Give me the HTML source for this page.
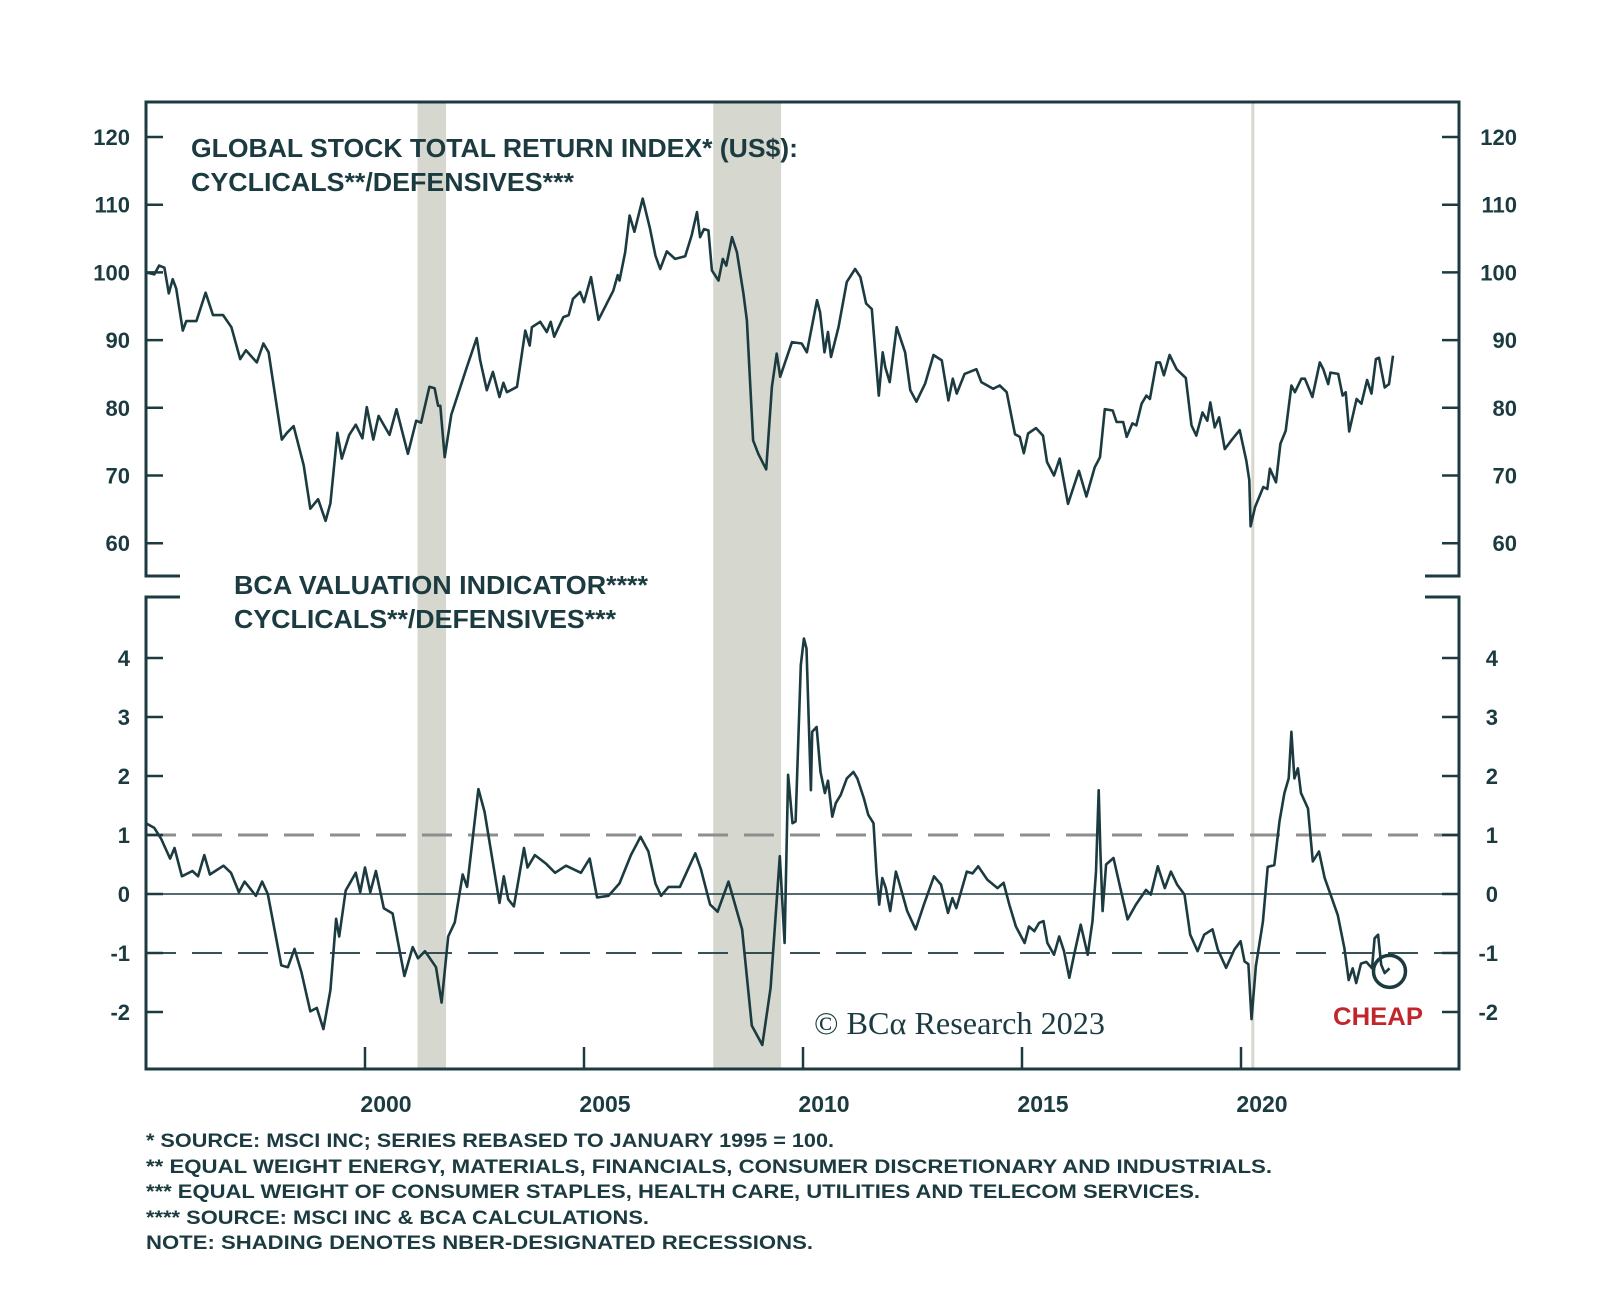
<!DOCTYPE html>
<html><head><meta charset="utf-8"><style>
html,body{margin:0;padding:0;background:#fff;}
svg{display:block;font-family:"Liberation Sans",sans-serif;}
</style></head><body>
<svg id="chart" width="1600" height="1295" viewBox="0 0 1600 1295" xmlns="http://www.w3.org/2000/svg"></svg>
<script>
const recessionStarts=[2001.2,2007.95];
const recessionEnds=[2001.85,2009.5];
const covidLine=[2020.27];
const topTicks=[60,70,80,90,100,110,120];
const botTicks=[-2,-1,0,1,2,3,4];
const xTickYears=[2000,2005,2010,2015,2020];
const xTickLabels=["2000","2005","2010","2015","2020"];
const topYears=[1995.0,1995.19,1995.3,1995.42,1995.52,1995.61,1995.69,1995.84,1995.92,1996.15,1996.36,1996.53,1996.76,1996.95,1997.15,1997.28,1997.53,1997.68,1997.8,1998.1,1998.22,1998.37,1998.6,1998.75,1998.93,1999.1,1999.21,1999.37,1999.47,1999.64,1999.79,1999.94,2000.04,2000.19,2000.31,2000.56,2000.72,2000.98,2001.17,2001.28,2001.47,2001.59,2001.67,2001.72,2001.82,2001.97,2002.32,2002.55,2002.63,2002.78,2002.92,2003.07,2003.16,2003.24,2003.47,2003.66,2003.76,2003.81,2004.0,2004.15,2004.24,2004.32,2004.53,2004.65,2004.75,2004.91,2005.0,2005.16,2005.33,2005.67,2005.77,2005.81,2005.94,2006.04,2006.15,2006.34,2006.51,2006.63,2006.74,2006.89,2007.08,2007.31,2007.46,2007.58,2007.65,2007.74,2007.84,2007.92,2008.07,2008.17,2008.25,2008.38,2008.49,2008.64,2008.72,2008.86,2008.98,2009.16,2009.29,2009.4,2009.48,2009.75,2009.97,2010.09,2010.32,2010.39,2010.49,2010.57,2010.64,2010.81,2011.0,2011.19,2011.31,2011.44,2011.57,2011.73,2011.82,2011.88,2011.98,2012.14,2012.33,2012.45,2012.59,2012.79,2012.98,2013.17,2013.32,2013.42,2013.51,2013.69,2013.96,2014.07,2014.34,2014.49,2014.65,2014.84,2014.95,2015.04,2015.14,2015.32,2015.48,2015.57,2015.73,2015.86,2016.05,2016.3,2016.47,2016.66,2016.78,2016.89,2017.07,2017.16,2017.31,2017.39,2017.52,2017.61,2017.73,2017.84,2017.92,2018.07,2018.15,2018.24,2018.37,2018.53,2018.74,2018.87,2018.98,2019.12,2019.23,2019.3,2019.4,2019.5,2019.63,2019.78,2019.97,2020.12,2020.19,2020.22,2020.32,2020.51,2020.6,2020.66,2020.8,2020.9,2021.02,2021.15,2021.23,2021.38,2021.46,2021.63,2021.8,2021.88,2021.99,2022.04,2022.22,2022.32,2022.39,2022.47,2022.64,2022.75,2022.88,2022.98,2023.08,2023.15,2023.28,2023.38,2023.47];
const topValues=[100,99.7,101,100.7,96.9,99,97.6,91.4,92.8,92.8,97,93.7,93.7,91.9,87.2,88.5,86.7,89.5,88.2,75.3,76.3,77.3,71.5,65.1,66.5,63.3,65.9,76.3,72.5,76,77.5,75.5,80.1,75.3,78.8,76,79.8,73.2,78.1,77.8,83.1,82.9,80.3,80.3,72.7,79,85.9,90.3,87,82.6,85.3,81.6,83.7,82.3,83.1,91.4,89.2,91.9,92.7,91.2,92.7,90.5,93.4,93.7,96.1,97.1,95.6,99.3,93,97.3,99.6,98.8,103,108.4,106,110.9,106.4,102.5,100.5,103.1,102,102.4,105.5,108.9,105.2,106.4,106.2,100.3,98.8,102,101,105.2,103,96.9,92.9,75.2,73.2,70.9,83.1,88,84.6,89.7,89.5,88.2,95.9,94.1,88.2,91.2,87.5,91.9,98.6,100.5,99.3,95.4,94.6,81.8,88.2,86,83.8,91.9,88.2,82.6,80.9,83.6,87.8,87,81.1,84.3,82.1,85,85.7,83.8,82.8,83.3,82.3,76.1,75.7,73.3,76.2,77,75.9,72,70,72.5,65.8,70.7,66.9,71.2,72.7,79.8,79.6,77.9,77.9,75.7,77.7,77.4,80.6,81.8,81.3,86.7,86.7,84.8,87.8,85.7,84.4,77.4,75.9,79.3,78.1,80.8,77.1,78.6,73.9,75.2,76.7,72.2,69.3,62.5,65.3,68.3,68,71,69,74.7,76.6,83.3,82.3,84.3,84.3,81.6,86.7,85.7,83.5,85.2,85,81.8,82.3,76.5,81.3,80.6,84.1,82.1,87.2,87.4,83,83.5,87.7];
const valYears=[1995.0,1995.19,1995.35,1995.55,1995.65,1995.82,1996.06,1996.19,1996.33,1996.46,1996.77,1996.94,1997.12,1997.25,1997.51,1997.65,1997.78,1998.09,1998.24,1998.39,1998.55,1998.75,1998.9,1999.05,1999.21,1999.34,1999.41,1999.56,1999.79,1999.89,2000.0,2000.12,2000.25,2000.43,2000.63,2000.9,2001.09,2001.21,2001.37,2001.62,2001.75,2001.9,2002.05,2002.23,2002.33,2002.59,2002.73,2003.07,2003.17,2003.27,2003.4,2003.63,2003.71,2003.88,2004.14,2004.34,2004.59,2004.93,2005.13,2005.3,2005.56,2005.81,2006.07,2006.29,2006.47,2006.63,2006.76,2006.93,2007.19,2007.54,2007.67,2007.88,2008.05,2008.3,2008.61,2008.83,2009.07,2009.26,2009.47,2009.58,2009.66,2009.76,2009.83,2009.95,2010.02,2010.08,2010.18,2010.21,2010.31,2010.4,2010.5,2010.57,2010.67,2010.75,2010.86,2011.0,2011.15,2011.24,2011.39,2011.49,2011.61,2011.68,2011.74,2011.81,2011.89,2011.99,2012.12,2012.19,2012.38,2012.57,2012.76,2012.99,2013.15,2013.31,2013.41,2013.5,2013.74,2013.87,2014.0,2014.21,2014.44,2014.58,2014.71,2014.86,2015.06,2015.16,2015.28,2015.39,2015.49,2015.58,2015.73,2015.85,2015.96,2016.08,2016.19,2016.34,2016.5,2016.61,2016.69,2016.75,2016.79,2016.84,2016.92,2017.09,2017.26,2017.41,2017.6,2017.83,2017.94,2018.1,2018.26,2018.4,2018.54,2018.71,2018.84,2019.01,2019.16,2019.35,2019.47,2019.66,2019.85,2019.99,2020.08,2020.17,2020.24,2020.34,2020.5,2020.61,2020.76,2020.88,2020.99,2021.09,2021.15,2021.22,2021.3,2021.37,2021.53,2021.64,2021.78,2021.91,2022.02,2022.21,2022.36,2022.46,2022.55,2022.63,2022.74,2022.86,2022.99,2023.05,2023.13,2023.2,2023.28,2023.39];
const valValues=[1.2,1.12,0.93,0.6,0.78,0.3,0.39,0.3,0.66,0.33,0.48,0.36,0.03,0.21,-0.03,0.21,0,-1.21,-1.24,-0.93,-1.33,-1.99,-1.93,-2.29,-1.63,-0.42,-0.72,0.06,0.36,0.03,0.45,0.03,0.39,-0.24,-0.33,-1.39,-0.9,-1.09,-0.97,-1.24,-1.84,-0.72,-0.48,0.33,0.12,1.78,1.39,-0.15,0.3,-0.09,-0.21,0.78,0.45,0.66,0.51,0.36,0.48,0.36,0.6,-0.06,-0.03,0.18,0.66,0.97,0.72,0.18,-0.03,0.12,0.12,0.69,0.42,-0.18,-0.3,0.21,-0.6,-2.23,-2.56,-1.59,0.64,-0.83,2.02,1.2,1.23,3.88,4.33,4.16,1.76,2.75,2.83,2.07,1.71,1.92,1.31,1.54,1.68,1.96,2.07,1.96,1.62,1.34,1.2,0.33,-0.18,0.27,0.1,-0.29,0.38,0.21,-0.29,-0.6,-0.18,0.3,0.16,-0.32,-0.07,-0.24,0.38,0.35,0.47,0.24,0.1,0.19,-0.18,-0.55,-0.83,-0.55,-0.63,-0.49,-0.46,-0.83,-1.03,-0.72,-0.97,-1.42,-1.03,-0.52,-1.03,-0.46,0.38,1.76,0.72,-0.29,0.5,0.61,0.05,-0.43,-0.18,0.07,-0.01,0.47,0.1,0.38,0.16,-0.01,-0.69,-0.97,-0.69,-0.6,-0.94,-1.25,-0.94,-0.8,-1.14,-1.19,-2.12,-1.22,-0.47,0.46,0.49,1.23,1.71,1.96,2.75,1.96,2.13,1.71,1.45,0.55,0.72,0.27,0.04,-0.36,-0.92,-1.46,-1.26,-1.51,-1.18,-1.15,-1.26,-0.75,-0.69,-1.2,-1.34,-1.26];
const footnotes=["* SOURCE: MSCI INC; SERIES REBASED TO JANUARY 1995 = 100.","** EQUAL WEIGHT ENERGY, MATERIALS, FINANCIALS, CONSUMER DISCRETIONARY AND INDUSTRIALS.","*** EQUAL WEIGHT OF CONSUMER STAPLES, HEALTH CARE, UTILITIES AND TELECOM SERVICES.","**** SOURCE: MSCI INC & BCA CALCULATIONS.","NOTE: SHADING DENOTES NBER-DESIGNATED RECESSIONS."];

const C="#1b3b40";
const L=146,R=1459,T=102,B=1069,TB=576,BT=597;
const x=y=>L+(y-1995)*43.8;
const yTop=v=>137+(120-v)*6.77;
const yBot=v=>894-v*59;
const svg=document.getElementById('chart');
const NS="http://www.w3.org/2000/svg";
function mk(tag,attrs,parent){const e=document.createElementNS(NS,tag);for(const k in attrs)e.setAttribute(k,attrs[k]);(parent||svg).appendChild(e);return e;}

// recessions
for(let i=0;i<recessionStarts.length;i++){
  const r=mk('rect',{x:x(recessionStarts[i]),y:T,width:x(recessionEnds[i])-x(recessionStarts[i]),height:B-T,fill:'#d6d7cf'});
  
  
}
for(const c of covidLine){
  const r=mk('rect',{x:x(c)-1.5,y:T,width:3,height:B-T,fill:'#d6d7cf'});
  
  
}
// reference lines
let g=mk('line',{x1:L,x2:R,y1:yBot(1),y2:yBot(1),stroke:'#8e8e8e','stroke-width':3,'stroke-dasharray':'30 16'});

g=mk('line',{x1:L,x2:R,y1:yBot(-1),y2:yBot(-1),stroke:C,'stroke-width':1.8,'stroke-dasharray':'30 16'});

g=mk('line',{x1:L,x2:R,y1:yBot(0),y2:yBot(0),stroke:C,'stroke-width':1.6});


// frame
const fr=mk('path',{d:`M${L+34},${TB} H${L} V${T} H${R} V${TB} H${R-34} M${L+34},${BT} H${L} V${B} H${R} V${BT} H${R-34}`,fill:'none',stroke:C,'stroke-width':3});


// ticks & labels
for(const v of topTicks){
  const yy=yTop(v);
  mk('line',{x1:L,x2:L+17,y1:yy,y2:yy,stroke:C,'stroke-width':2.5});
  mk('line',{x1:R-17,x2:R,y1:yy,y2:yy,stroke:C,'stroke-width':2.5});
  let t=mk('text',{x:130,y:yy+8,'text-anchor':'end','font-size':22,'font-weight':'bold',fill:C});t.textContent=v;
  
  t=mk('text',{x:1517,y:yy+8,'text-anchor':'end','font-size':22,'font-weight':'bold',fill:C});t.textContent=v;
  
}
for(const v of botTicks){
  const yy=yBot(v);
  mk('line',{x1:L,x2:L+17,y1:yy,y2:yy,stroke:C,'stroke-width':2.5});
  mk('line',{x1:R-17,x2:R,y1:yy,y2:yy,stroke:C,'stroke-width':2.5});
  let t=mk('text',{x:130,y:yy+8,'text-anchor':'end','font-size':22,'font-weight':'bold',fill:C});t.textContent=v;
  
  t=mk('text',{x:1498,y:yy+8,'text-anchor':'end','font-size':22,'font-weight':'bold',fill:C});t.textContent=v;
  
}
for(let i=0;i<xTickYears.length;i++){
  const xx=x(xTickYears[i]);
  mk('line',{x1:xx,x2:xx,y1:B-22,y2:B,stroke:C,'stroke-width':2.5});
  const t=mk('text',{x:xx+21,y:1112,'text-anchor':'middle','font-size':23,'font-weight':'bold',fill:C});t.textContent=xTickLabels[i];
  
}

// series
function path(ys,vs,fy){return ys.map((yy,i)=>(i?'L':'M')+x(yy).toFixed(1)+','+fy(vs[i]).toFixed(1)).join(' ');}
g=mk('path',{d:path(topYears,topValues,yTop),fill:'none',stroke:C,'stroke-width':2.6,'stroke-linejoin':'round'});

g=mk('path',{d:path(valYears,valValues,yBot),fill:'none',stroke:C,'stroke-width':2.6,'stroke-linejoin':'round'});


// circle marker at last point
const lastY=valYears[valYears.length-1],lastV=valValues[valValues.length-1];
g=mk('circle',{cx:x(lastY),cy:yBot(lastV)+3,r:16,fill:'none',stroke:C,'stroke-width':3.5});


// titles
function txt(s,attrs,name){const t=mk('text',attrs);t.textContent=s;return t;}
const tb={'font-size':26,'font-weight':'bold',fill:C,lengthAdjust:'spacingAndGlyphs'};
txt('GLOBAL STOCK TOTAL RETURN INDEX* (US$):',Object.assign({x:191,y:157,textLength:607},tb),'top-panel-title');
txt('CYCLICALS**/DEFENSIVES***',Object.assign({x:191,y:191,textLength:383},tb),'top-panel-subtitle');
txt('BCA VALUATION INDICATOR****',Object.assign({x:234,y:594,textLength:414},tb),'bottom-panel-title');
txt('CYCLICALS**/DEFENSIVES***',Object.assign({x:234,y:628,textLength:382},tb),'bottom-panel-subtitle');
txt('© BCα Research 2023',{x:814,y:1034,'font-family':'"Liberation Serif",serif','font-size':32,fill:C,textLength:291,lengthAdjust:'spacingAndGlyphs'},'copyright');
txt('CHEAP',{x:1333,y:1025,'font-size':25,'font-weight':'bold',fill:'#c0272d',textLength:90,lengthAdjust:'spacingAndGlyphs'},'cheap-label');

const fnW=[688,1126,1054,503,667];
const fnY=[1147,1173,1198,1224,1249];
for(let i=0;i<footnotes.length;i++){
  txt(footnotes[i],{x:146,y:fnY[i],'font-size':19,'font-weight':'bold',fill:C,textLength:fnW[i],lengthAdjust:'spacingAndGlyphs'},'footnote-'+(i+1));
}
</script>
</body></html>
